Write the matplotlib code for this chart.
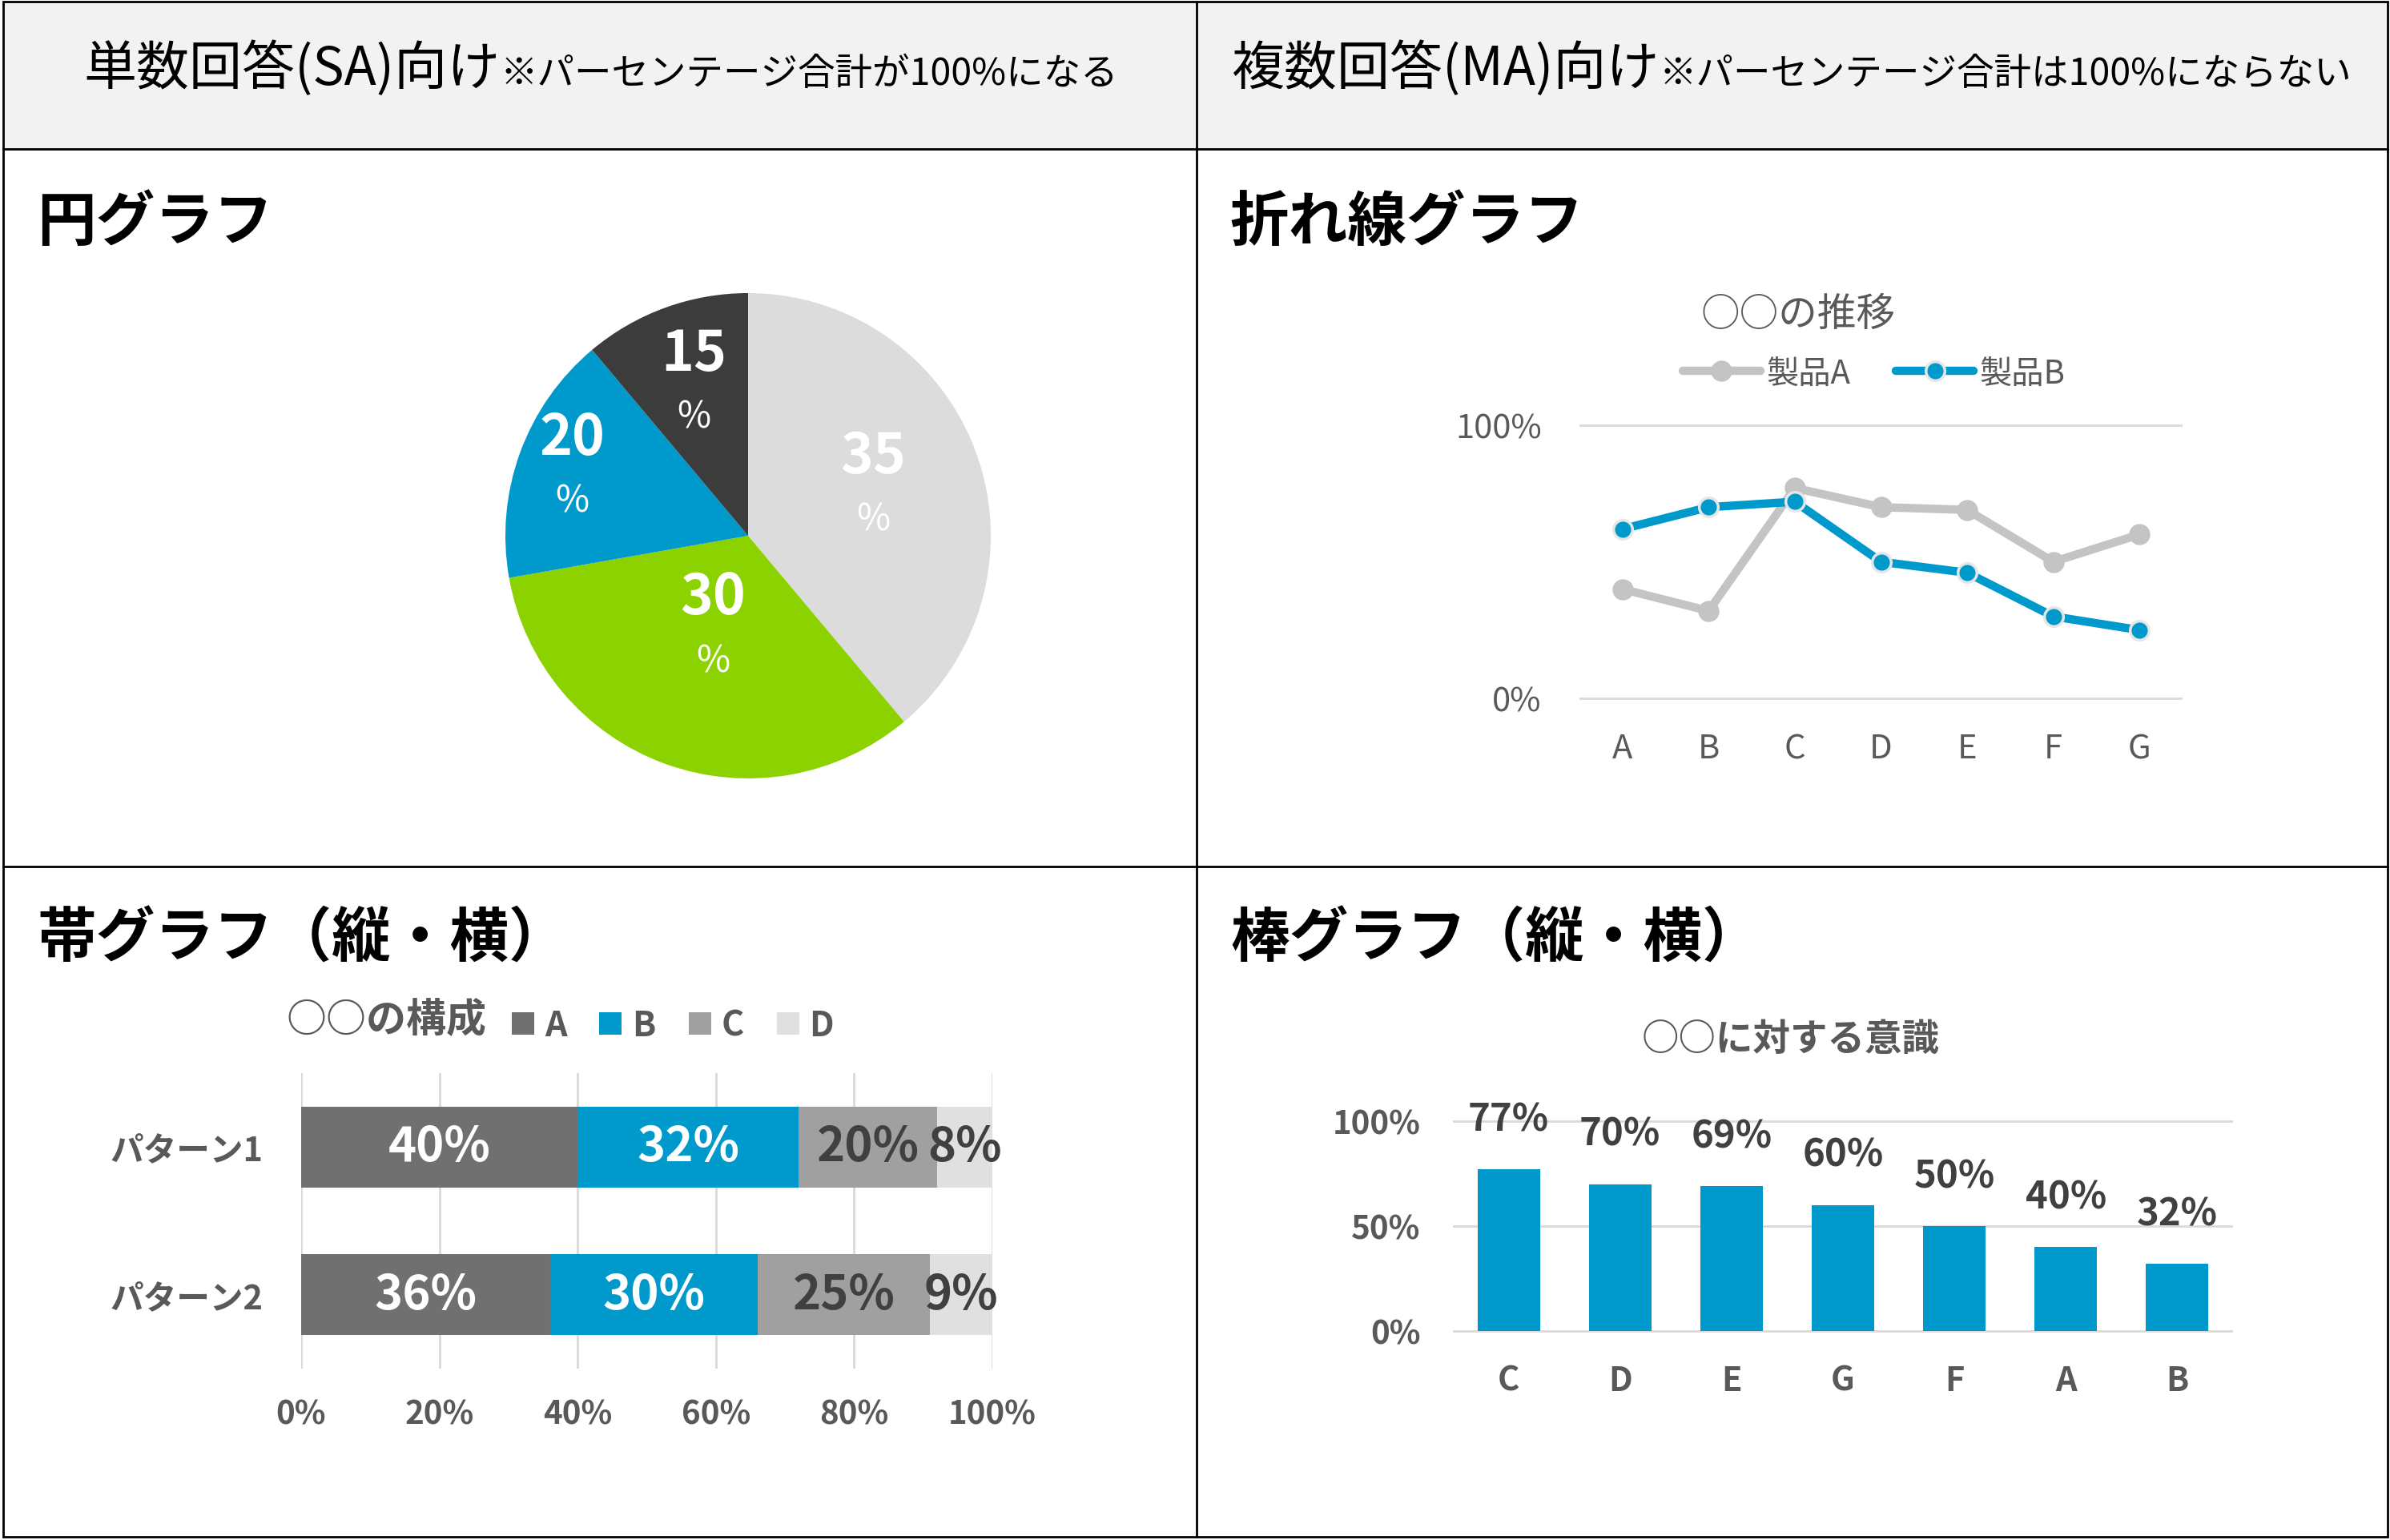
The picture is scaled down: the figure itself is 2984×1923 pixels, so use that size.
import matplotlib
matplotlib.use("Agg")
import matplotlib.pyplot as plt
import numpy as np
from matplotlib.patches import Rectangle

plt.rcParams['font.family'] = ['Noto Sans CJK JP', 'DejaVu Sans']

W, H = 2984, 1924
GRAY_TXT = '#595959'
DARK_TXT = '#404040'
GRID = '#d9d9d9'
BLUE = '#0099cc'

# header texts
head_left_main = "単数回答(SA)向け"
head_left_note = "※パーセンテージ合計が100%になる"
head_right_main = "複数回答(MA)向け"
head_right_note = "※パーセンテージ合計は100%にならない"
section_titles = ["円グラフ", "折れ線グラフ", "帯グラフ（縦・横）", "棒グラフ（縦・横）"]

# pie
pie_values = [35, 30, 15, 10]
pie_labels = ["35", "30", "20", "15"]
pie_colors = ['#dcdcdc', '#8cd200', BLUE, '#3c3c3c']

# line chart
line_title = "○○の推移"
line_categories = ["A", "B", "C", "D", "E", "F", "G"]
product_a = [0.40, 0.32, 0.77, 0.70, 0.69, 0.50, 0.60]
product_b = [0.62, 0.70, 0.72, 0.50, 0.46, 0.30, 0.25]

# stacked bars
stack_title = "○○の構成"
stack_patterns = ["パターン1", "パターン2"]
stack_names = ["A", "B", "C", "D"]
stack_a = [0.40, 0.36]
stack_b = [0.32, 0.30]
stack_c = [0.20, 0.25]
stack_d = [0.08, 0.09]
stack_colors = ['#707070', BLUE, '#a0a0a0', '#e0e0e0']
stack_label_colors = ['white', 'white', DARK_TXT, DARK_TXT]

# column chart
bar_title = "○○に対する意識"
bar_categories = ["C", "D", "E", "G", "F", "A", "B"]
bar_values = [0.77, 0.70, 0.69, 0.60, 0.50, 0.40, 0.32]

fig = plt.figure(figsize=(W / 100, H / 100), dpi=100)
fig.patch.set_facecolor('white')


def ax_px(x0, y0, x1, y1):
    return fig.add_axes([x0 / W, 1 - y1 / H, (x1 - x0) / W, (y1 - y0) / H])


# background / frame in pixel coords
bg = ax_px(0, 0, W, H)
bg.set_xlim(0, W)
bg.set_ylim(H, 0)
bg.axis('off')
bg.add_patch(Rectangle((4, 3), 2977, 184, facecolor='#f2f2f2', edgecolor='none'))
bg.add_patch(Rectangle((4, 3), 2977, 1917, facecolor='none', edgecolor='black', lw=2))
bg.plot([4, 2981], [187, 187], color='black', lw=2)
bg.plot([4, 2981], [1083, 1083], color='black', lw=2)
bg.plot([1494, 1494], [3, 1920], color='black', lw=2)

# header text (main + note on one baseline, centred in the cell)
renderer = fig.canvas.get_renderer()
for cx, main, note in [(750, head_left_main, head_left_note),
                       (2237, head_right_main, head_right_note)]:
    t1 = bg.text(0, 106, main, fontsize=47.5, va='baseline', ha='left')
    t2 = bg.text(0, 106, note, fontsize=33.5, va='baseline', ha='left')
    w1 = t1.get_window_extent(renderer).width
    w2 = t2.get_window_extent(renderer).width
    x0 = cx - (w1 + w2) / 2
    t1.set_x(x0)
    t2.set_x(x0 + w1)

for (x, y), s in zip([(46, 300), (1536, 300), (46, 1195), (1536, 1195)], section_titles):
    bg.text(x, y, s, fontsize=53, fontweight='bold', va='baseline', ha='left')

# ---- pie ----
pc = (934, 670)
R = 303
axp = ax_px(pc[0] - R, pc[1] - R, pc[0] + R, pc[1] + R)
wedges, _ = axp.pie(pie_values, colors=pie_colors, startangle=90, counterclock=False,
                    radius=1, wedgeprops=dict(linewidth=0))
axp.set_xlim(-1, 1)
axp.set_ylim(-1, 1)
axp.set_aspect('equal')
label_dist = [0.55, 0.42, 0.77, 0.65]
for w, lab, d in zip(wedges, pie_labels, label_dist):
    ang = np.deg2rad((w.theta1 + w.theta2) / 2)
    lx, ly = d * np.cos(ang), d * np.sin(ang)
    axp.text(lx, ly + 0.14, lab, fontsize=50, fontweight='bold', color='white',
             ha='center', va='center')
    axp.text(lx, ly - 0.12, "%", fontsize=33, color='white', ha='center', va='center')

# ---- line chart ----
l_top, l_zero = 532, 873
lpu = l_zero - l_top
axl = ax_px(1972, l_top - 0.05 * lpu, 2725, l_zero + 0.05 * lpu)
axl.set_xlim(-0.5, 6.5)
axl.set_ylim(-0.05, 1.05)
x = np.arange(len(line_categories))
axl.plot(x, product_a, color='#c4c4c4', lw=7.5, marker='o', ms=18,
         mfc='#c4c4c4', mec='#c4c4c4', label='製品A', solid_capstyle='round')
axl.plot(x, product_b, color=BLUE, lw=7.5, marker='o', ms=17,
         mfc=BLUE, mec='#e6e6e6', mew=2.5, label='製品B', solid_capstyle='round')
axl.set_yticks([0, 1])
axl.set_yticklabels(["0%", "100%"])
axl.set_xticks(x)
axl.set_xticklabels(line_categories)
axl.yaxis.grid(True, color=GRID, lw=2)
axl.set_axisbelow(True)
for s in axl.spines.values():
    s.set_visible(False)
axl.tick_params(axis='y', length=0, pad=34, labelsize=30, labelcolor=GRAY_TXT)
axl.tick_params(axis='x', length=0, pad=18, labelsize=30, labelcolor=GRAY_TXT)
for t in axl.get_yticklabels():
    t.set_va('center_baseline')
axl.patch.set_alpha(0)
bg.text(2245, 393, line_title, fontsize=35, color=GRAY_TXT, ha='center', va='center')
axl.legend(loc='center', bbox_to_anchor=(2340 / W, 1 - 467 / H),
           bbox_transform=fig.transFigure, ncol=2, frameon=False, fontsize=29,
           labelcolor=GRAY_TXT, handlelength=2.4, handletextpad=0.2,
           columnspacing=1.4, borderpad=0, numpoints=1)

# ---- stacked horizontal bars ----
axs = ax_px(376, 1341, 1239, 1710)
yy = np.arange(len(stack_patterns))
left = np.zeros(len(stack_patterns))
for vals, name, col, tcol in zip([stack_a, stack_b, stack_c, stack_d], stack_names,
                                 stack_colors, stack_label_colors):
    axs.barh(yy, vals, left=left, height=0.55, color=col, label=name, zorder=2)
    for yi, v, l0 in zip(yy, vals, left):
        axs.text(l0 + v / 2, yi, f"{round(v * 100)}%", fontsize=43, fontweight='bold',
                 color=tcol, ha='center', va='center', zorder=3)
    left = left + np.array(vals)
axs.set_xlim(0, 1)
axs.set_ylim(1.5, -0.5)
axs.set_xticks(np.linspace(0, 1, 6))
axs.set_xticklabels([f"{int(v)}%" for v in np.linspace(0, 100, 6)])
axs.set_yticks(yy)
axs.set_yticklabels(stack_patterns)
axs.xaxis.grid(True, color=GRID, lw=2, zorder=0)
axs.set_axisbelow(True)
for s in axs.spines.values():
    s.set_visible(False)
axs.tick_params(axis='x', length=0, pad=26, labelcolor=GRAY_TXT)
axs.tick_params(axis='y', length=0, pad=34, labelcolor=GRAY_TXT)
for t in axs.get_xticklabels():
    t.set_fontsize(29)
    t.set_fontweight('bold')
for t in axs.get_yticklabels():
    t.set_fontsize(30)
    t.set_fontweight('bold')
axs.patch.set_alpha(0)
bg.text(357, 1275, stack_title, fontsize=36, fontweight='bold', color=GRAY_TXT,
        ha='left', va='center')
axs.legend(loc='center left', bbox_to_anchor=(639 / W, 1 - 1281 / H),
           bbox_transform=fig.transFigure, ncol=4, frameon=False,
           prop={'size': 31, 'weight': 'bold'}, labelcolor=GRAY_TXT,
           handlelength=0.65, handleheight=0.65, handletextpad=0.3,
           columnspacing=0.95, borderpad=0, borderaxespad=0)

# ---- column chart ----
b_top, b_zero = 1401, 1663
bpu = b_zero - b_top
axb = ax_px(1814, b_top - 0.05 * bpu, 2788, b_zero + 0.05 * bpu)
xb = np.arange(len(bar_categories))
axb.bar(xb, bar_values, width=0.56, color=BLUE, zorder=2)
for xi, v in zip(xb, bar_values):
    axb.text(xi, v + 0.24, f"{round(v * 100)}%", fontsize=34, fontweight='bold',
             color=DARK_TXT, ha='center', va='center', zorder=3)
axb.set_xlim(-0.5, 6.5)
axb.set_ylim(-0.05, 1.05)
axb.set_yticks([0, 0.5, 1])
axb.set_yticklabels(["0%", "50%", "100%"])
axb.set_xticks(xb)
axb.set_xticklabels(bar_categories)
axb.yaxis.grid(True, color=GRID, lw=2, zorder=0)
axb.set_axisbelow(True)
for s in axb.spines.values():
    s.set_visible(False)
axb.tick_params(axis='y', length=0, pad=29, labelcolor=GRAY_TXT, labelsize=29)
axb.tick_params(axis='x', length=0, pad=20, labelcolor=GRAY_TXT, labelsize=30)
for t in axb.get_xticklabels() + axb.get_yticklabels():
    t.set_fontweight('bold')
axb.patch.set_alpha(0)
bg.text(2236, 1298, bar_title, fontsize=33.5, fontweight='bold', color=GRAY_TXT,
        ha='center', va='center')

fig.savefig("out.png", dpi=100)
